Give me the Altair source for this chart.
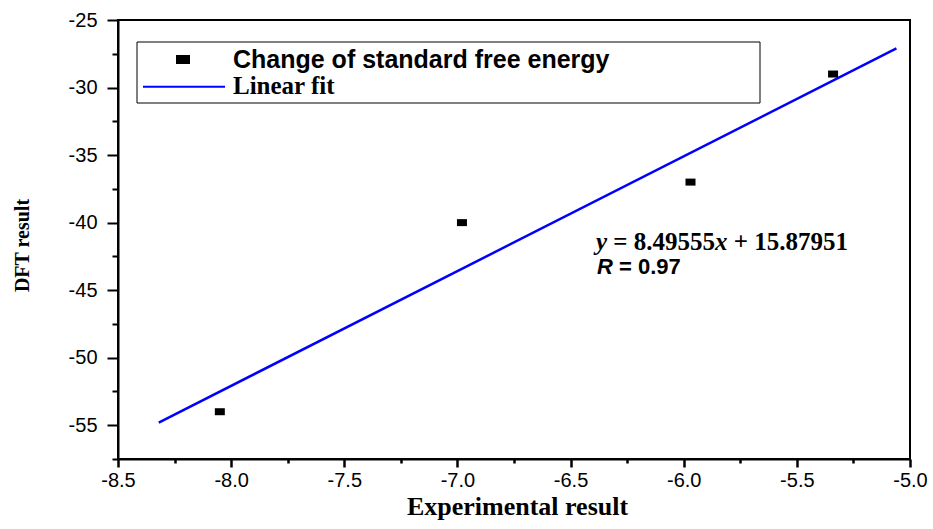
import altair as alt
import pandas as pd

# Measured values: experimental vs. DFT change of standard free energy
exp_result = [-8.05, -6.98, -5.97, -5.34]
dft_result = [-54.0, -40.0, -37.0, -29.0]

# Linear fit coefficients (as printed on the chart) and the fitted x span
fit_slope = 8.49555
fit_intercept = 15.87951
fit_span = [-8.32, -5.06]

# Axis tick positions
x_major = [-8.5, -8.0, -7.5, -7.0, -6.5, -6.0, -5.5, -5.0]
x_minor = [-8.25, -7.75, -7.25, -6.75, -6.25, -5.75, -5.25]
y_major = [-55, -50, -45, -40, -35, -30, -25]
y_minor = [-57.5, -52.5, -47.5, -42.5, -37.5, -32.5, -27.5]

legend_labels = ["Change of standard free energy", "Linear fit"]

W, H = 792, 439

points = pd.DataFrame({"exp": exp_result, "dft": dft_result})
fit = pd.DataFrame({
    "exp": fit_span,
    "dft": [fit_slope * v + fit_intercept for v in fit_span],
})
one = pd.DataFrame({"k": [0]})

xs = alt.Scale(domain=[-8.5, -5.0], nice=False, zero=False)
ys = alt.Scale(domain=[-57.5, -25], nice=False, zero=False)


def hyphen_label(fmt):
    # plain ASCII hyphen for negatives instead of the unicode minus
    return f"(datum.value < 0 ? '-' : '') + format(abs(datum.value), '{fmt}')"


common = dict(
    grid=False,
    domainColor="black",
    domainWidth=2,
    tickColor="black",
    labelColor="black",
    labelFont="Liberation Sans",
    labelFontSize=20,
    labelOverlap=False,
    labelFlush=False,
    titleColor="black",
    titleFont="Liberation Serif",
    titleFontWeight="bold",
)

x_axis = alt.Axis(
    values=x_major, orient="bottom", labelExpr=hyphen_label(".1f"),
    tickSize=8, tickWidth=2.5, labelPadding=3,
    title="Experimental result", titleFontSize=26,
    titleX=399, titleY=55, titleAlign="center", titleBaseline="alphabetic",
    **common,
)
y_axis = alt.Axis(
    values=y_major, orient="left", labelExpr=hyphen_label("d"),
    tickSize=11, tickWidth=2, labelPadding=10,
    title="DFT result", titleFontSize=20, titleAngle=270,
    titleX=-90, titleY=225, titleAlign="center", titleBaseline="alphabetic",
    **common,
)
x_minor_axis = alt.Axis(
    values=x_minor, orient="bottom", labels=False, domain=False, grid=False,
    tickSize=4, tickWidth=2.5, tickColor="black", title=None,
)
y_minor_axis = alt.Axis(
    values=y_minor, orient="left", labels=False, domain=False, grid=False,
    tickSize=6, tickWidth=2, tickColor="black", title=None,
)

fit_line = alt.Chart(fit).mark_line(color="#0000ff", strokeWidth=2.5).encode(
    x=alt.X("exp:Q", scale=xs, axis=x_minor_axis),
    y=alt.Y("dft:Q", scale=ys, axis=y_minor_axis),
)

rect_small = "M-1,-0.7L1,-0.7L1,0.7L-1,0.7Z"
rect_big = "M-1,-0.643L1,-0.643L1,0.643L-1,0.643Z"

scatter = alt.Chart(points).mark_point(
    shape=rect_small, size=100, filled=True, color="black", opacity=1, strokeWidth=0
).encode(
    x=alt.X("exp:Q", scale=xs, axis=x_axis),
    y=alt.Y("dft:Q", scale=ys, axis=y_axis),
)

# Legend box drawn inside the plot area
base = alt.Chart(one)
legend_box = base.mark_rect(fill="white", stroke="black", strokeWidth=1).encode(
    x=alt.value(19), x2=alt.value(642), y=alt.value(22), y2=alt.value(83)
)
legend_symbol = base.mark_point(
    shape=rect_big, size=196, filled=True, color="black", opacity=1, strokeWidth=0
).encode(x=alt.value(65), y=alt.value(39.5))
legend_line = base.mark_rule(color="#0000ff", strokeWidth=2).encode(
    x=alt.value(25), x2=alt.value(107), y=alt.value(66.7)
)
legend_text1 = base.mark_text(
    align="left", baseline="alphabetic", font="Liberation Sans",
    fontWeight="bold", fontSize=25, color="black",
).encode(x=alt.value(115), y=alt.value(48), text=alt.value(legend_labels[0]))
legend_text2 = base.mark_text(
    align="left", baseline="alphabetic", font="Liberation Serif",
    fontWeight="bold", fontSize=25, color="black",
).encode(x=alt.value(115), y=alt.value(74), text=alt.value(legend_labels[1]))


def piece(txt, px, py, font, size, italic=False):
    kw = dict(align="left", baseline="alphabetic", font=font,
              fontWeight="bold", fontSize=size, color="black")
    if italic:
        kw["fontStyle"] = "italic"
    return base.mark_text(**kw).encode(
        x=alt.value(px), y=alt.value(py), text=alt.value(txt)
    )


# Fit equation and correlation coefficient
eq_size = 25
x0 = 478
eq_y = 230
p_eq = x0 + (0.444 + 0.25) * eq_size
p_x = p_eq + (0.57 + 0.25 + 3.25) * eq_size
p_plus = p_x + (0.5 + 0.25) * eq_size
r_size = 22
r_y = 253.5
eq_layers = [
    piece("y", x0, eq_y, "Liberation Serif", eq_size, italic=True),
    piece(f"= {fit_slope:.5f}", p_eq, eq_y, "Liberation Serif", eq_size),
    piece("x", p_x, eq_y, "Liberation Serif", eq_size, italic=True),
    piece(f"+ {fit_intercept:.5f}", p_plus, eq_y, "Liberation Serif", eq_size),
    piece("R", x0 + 1, r_y, "Liberation Sans", r_size, italic=True),
    piece("= 0.97", x0 + 1 + (0.722 + 0.278) * r_size, r_y, "Liberation Sans", r_size),
]

chart = alt.layer(
    fit_line, scatter,
    legend_box, legend_symbol, legend_line, legend_text1, legend_text2,
    *eq_layers,
).resolve_axis(
    x="independent", y="independent"
).properties(
    width=W, height=H,
    autosize=alt.AutoSizeParams(type="none"),
    padding={"left": 118, "top": 20, "right": 23, "bottom": 70},
    background="white",
).configure_view(stroke="black", strokeWidth=2)

chart.save("out.html", embed_options={"renderer": "svg", "actions": False})
